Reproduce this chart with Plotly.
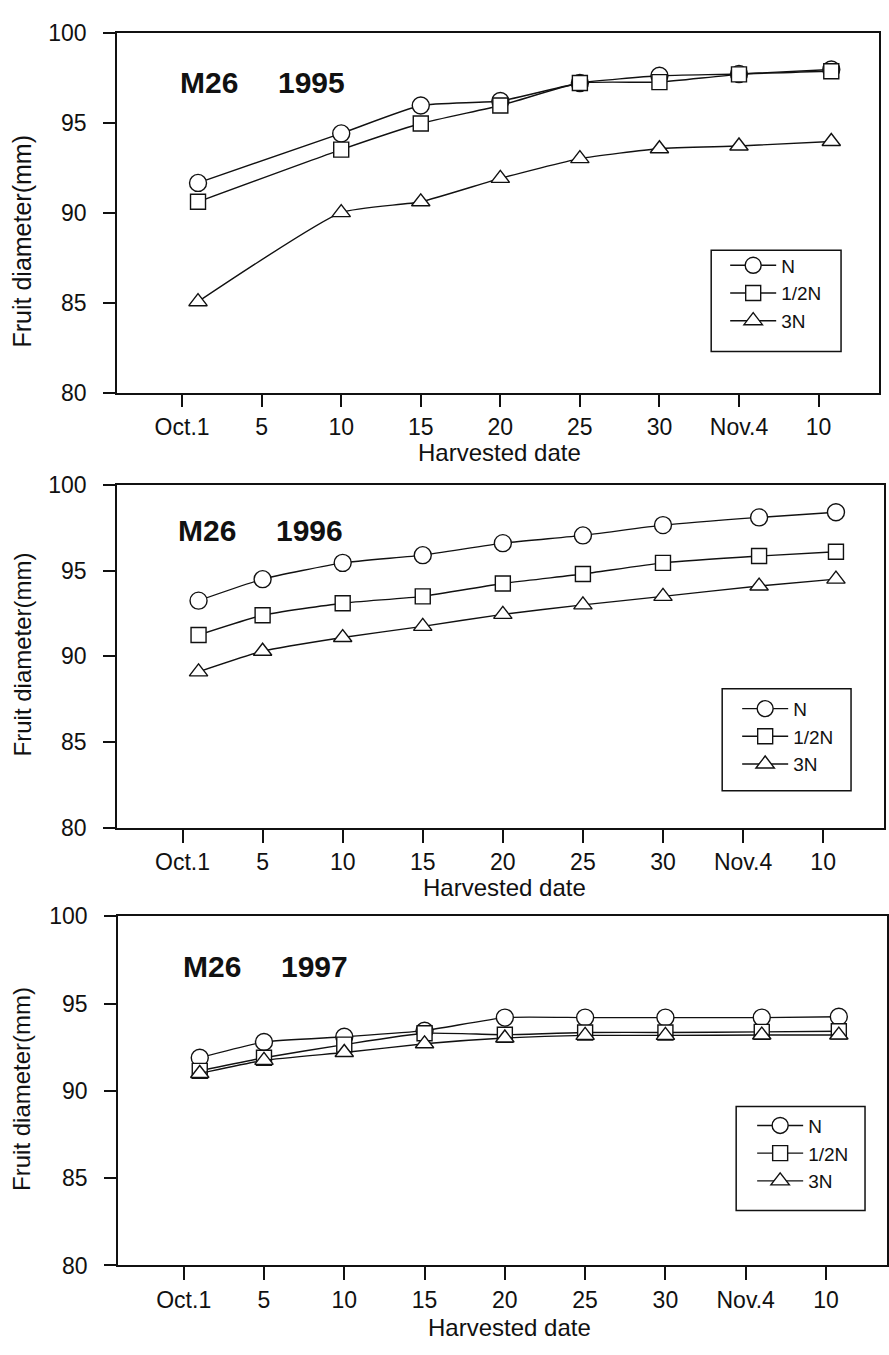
import plotly.graph_objects as go

W, H = 889, 1355
FONT = "Liberation Sans, Arial, sans-serif"

# ---------------- data ----------------
tick_vals = [0, 5, 10, 15, 20, 25, 30, 35, 40]
tick_text = ["Oct.1", "5", "10", "15", "20", "25", "30", "Nov.4", "10"]
y_ticks = [80, 85, 90, 95, 100]

series_names = ["N", "1/2N", "3N"]

x_1995 = [1, 10, 15, 20, 25, 30, 35, 40.8]
n_1995 = [91.65, 94.4, 95.95, 96.2, 97.2, 97.6, 97.7, 97.95]
half_1995 = [90.6, 93.5, 94.95, 95.95, 97.2, 97.25, 97.68, 97.85]
three_1995 = [85.05, 90.0, 90.6, 91.9, 93.0, 93.55, 93.7, 93.95]

x_1996 = [1, 5, 10, 15, 20, 25, 30, 36, 40.8]
n_1996 = [93.25, 94.5, 95.45, 95.9, 96.6, 97.05, 97.65, 98.1, 98.4]
half_1996 = [91.25, 92.4, 93.1, 93.5, 94.25, 94.8, 95.45, 95.85, 96.1]
three_1996 = [89.1, 90.3, 91.1, 91.75, 92.45, 93.0, 93.5, 94.1, 94.5]

x_1997 = [1, 5, 10, 15, 20, 25, 30, 36, 40.8]
n_1997 = [91.9, 92.8, 93.1, 93.45, 94.2, 94.2, 94.2, 94.2, 94.25]
half_1997 = [91.15, 91.9, 92.65, 93.3, 93.22, 93.35, 93.35, 93.38, 93.42]
three_1997 = [91.0, 91.75, 92.2, 92.7, 93.03, 93.18, 93.18, 93.2, 93.2]

panel_labels = [("M26", "1995"), ("M26", "1996"), ("M26", "1997")]

# ---------------- layout geometry (pixels) ----------------
panels = [
    dict(x=x_1995, ys=[n_1995, half_1995, three_1995], left=117, right=880, top=20, bottom=387,
         box=(712, 242, 842, 345), leg=(726, 238), lab=(178, 276, 71), ytitle=(232, 25),
         xtitle=(500, 448)),
    dict(x=x_1996, ys=[n_1996, half_1996, three_1996], left=117, right=885, top=481, bottom=831,
         box=(723, 689, 852, 793), leg=(738, 690), lab=(176, 274, 528), ytitle=(654, 24),
         xtitle=(505, 892)),
    dict(x=x_1997, ys=[n_1997, half_1997, three_1997], left=118, right=888, top=921, bottom=1277,
         box=(737, 1115, 866, 1221), leg=(753, 1115), lab=(181, 279, 972), ytitle=(1097, 24),
         xtitle=(510, 1340)),
]

def px(xp):
    return xp / W

def py(yp):
    return 1 - yp / H

symbols = ["circle", "square", "triangle-up"]
msizes = [17, 15, 16]

fig = go.Figure()
shapes = []
annotations = []
layout = dict(width=W, height=H, margin=dict(l=0, r=0, t=0, b=0),
              paper_bgcolor="white", plot_bgcolor="white", showlegend=True,
              font=dict(family=FONT, color="#111"))

for i, p in enumerate(panels):
    k = "" if i == 0 else str(i + 1)
    legname = "legend" if i == 0 else f"legend{i+1}"
    for j, name in enumerate(series_names):
        fig.add_trace(go.Scatter(
            x=p["x"], y=p["ys"][j], name=name, mode="lines+markers",
            xaxis="x" + k, yaxis="y" + k, legend=legname,
            line=dict(color="#111", width=1.4, shape="spline", smoothing=0.5),
            marker=dict(symbol=symbols[j], size=msizes[j], color="white",
                        line=dict(color="#111", width=1.4)),
            cliponaxis=False,
        ))
    layout["xaxis" + k] = dict(
        domain=[px(p["left"]), px(p["right"])], range=[-4.1, 43.8],
        anchor="y" + k, tickmode="array", tickvals=tick_vals, ticktext=tick_text,
        showline=True, mirror=True, linecolor="#111", linewidth=1.5,
        ticks="outside", ticklen=13, tickwidth=1.5, tickcolor="#111",
        showgrid=False, zeroline=False, tickfont=dict(size=23, family=FONT, color="#111"),
        ticklabelstandoff=0,
    )
    layout["yaxis" + k] = dict(
        domain=[py(p["bottom"]), py(p["top"])], range=[80, 100],
        anchor="x" + k, tickmode="array", tickvals=y_ticks,
        showline=True, mirror=True, linecolor="#111", linewidth=1.5,
        ticks="outside", ticklen=12, tickwidth=1.5, tickcolor="#111",
        showgrid=False, zeroline=False, tickfont=dict(size=23, family=FONT, color="#111"),
        ticklabelstandoff=12,
    )
    lx0, ly0, lx1, ly1 = p["box"]
    shapes.append(dict(type="rect", xref="paper", yref="paper",
                       x0=px(lx0), x1=px(lx1), y0=py(ly1), y1=py(ly0),
                       line=dict(color="#111", width=1.5), fillcolor="rgba(0,0,0,0)"))
    gx, gy = p["leg"]
    layout[legname] = dict(x=px(gx), y=py(gy), xanchor="left", yanchor="top",
                           bgcolor="rgba(0,0,0,0)", borderwidth=0,
                           font=dict(size=19, family=FONT, color="#111"),
                           itemwidth=46, tracegroupgap=0)
    a, b = panel_labels[i]
    xa, xb, yl = p["lab"]
    for txt, xx in ((a, xa), (b, xb)):
        annotations.append(dict(text=f"<b>{txt}</b>", x=px(xx), y=py(yl), xref="paper",
                                yref="paper", xanchor="left", yanchor="middle", showarrow=False,
                                font=dict(size=30, family=FONT, color="#111")))
    yt_c, yt_s = p["ytitle"]
    annotations.append(dict(text="Fruit diameter(mm)", x=px(22), y=py(yt_c),
                            xref="paper", yref="paper", xanchor="center", yanchor="middle",
                            textangle=-90, showarrow=False,
                            font=dict(size=yt_s, family=FONT, color="#111")))
    xt, yt = p["xtitle"]
    annotations.append(dict(text="Harvested date", x=px(xt), y=py(yt),
                            xref="paper", yref="paper", xanchor="center", yanchor="middle",
                            showarrow=False, font=dict(size=24, family=FONT, color="#111")))

layout["shapes"] = shapes
layout["annotations"] = annotations
fig.update_layout(**layout)
fig.write_html("out.html")
